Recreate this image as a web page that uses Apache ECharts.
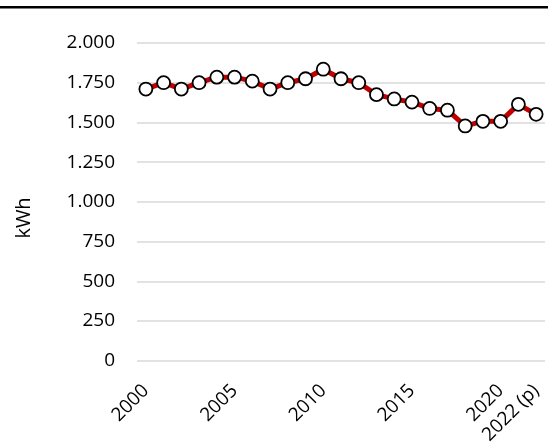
<!DOCTYPE html>
<html>
<head>
<meta charset="utf-8">
<script src="https://cdn.jsdelivr.net/npm/echarts@6/dist/echarts.min.js"></script>
<style>
html,body{margin:0;padding:0;background:#fff;}
#chart{width:548px;height:447px;}
</style>
</head>
<body>
<div id="chart"></div>
<script>
const years = ['2000','2001','2002','2003','2004','2005','2006','2007','2008','2009','2010','2011','2012','2013','2014','2015','2016','2017','2018','2019','2020','2021','2022 (p)'];
const kwh = [1710,1750,1710,1750,1785,1785,1760,1710,1750,1775,1835,1775,1750,1675,1648,1628,1588,1577,1478,1507,1507,1614,1551];
const shownLabels = [0,5,10,15,20,22];
const yMin = 0, yMax = 2000, yStep = 250;
const yTitle = 'kWh';

const fontFam = '"Open Sans", sans-serif';
const chart = echarts.init(document.getElementById('chart'), null, {renderer:'canvas'});
chart.setOption({
  animation:false,
  backgroundColor:'#fff',
  graphic:[
    {type:'rect', shape:{x:0,y:6,width:548,height:2.5}, style:{fill:'#000'}},
    {type:'text', x:24, y:218, rotation:Math.PI/2,
     style:{text:yTitle, fill:'#000', font:'20px "Open Sans", sans-serif', align:'center', verticalAlign:'middle'}}
  ],
  grid:{left:137, right:3, top:43, bottom:86, containLabel:false},
  xAxis:{
    type:'category', data:years, boundaryGap:true,
    axisLine:{show:false}, axisTick:{show:false},
    axisLabel:{
      interval:(i)=>shownLabels.includes(i),
      rotate:45, margin:27, color:'#000', fontSize:19, fontFamily:fontFam
    }
  },
  yAxis:{
    type:'value', min:yMin, max:yMax, interval:yStep,
    axisLine:{show:false}, axisTick:{show:false},
    axisLabel:{
      margin:22, color:'#000', fontSize:19, fontFamily:fontFam,
      formatter:(v)=>v.toString().replace(/\B(?=(\d{3})+(?!\d))/g,'.')
    },
    splitLine:{lineStyle:{color:'#d9d9d9', width:1.5}}
  },
  series:[{
    type:'line', data:kwh,
    showAllSymbol:true,
    lineStyle:{color:'#c00000', width:5},
    symbol:'circle', symbolSize:13,
    itemStyle:{color:'#fff', borderColor:'#000', borderWidth:1.8}
  }]
});
</script>
</body>
</html>
